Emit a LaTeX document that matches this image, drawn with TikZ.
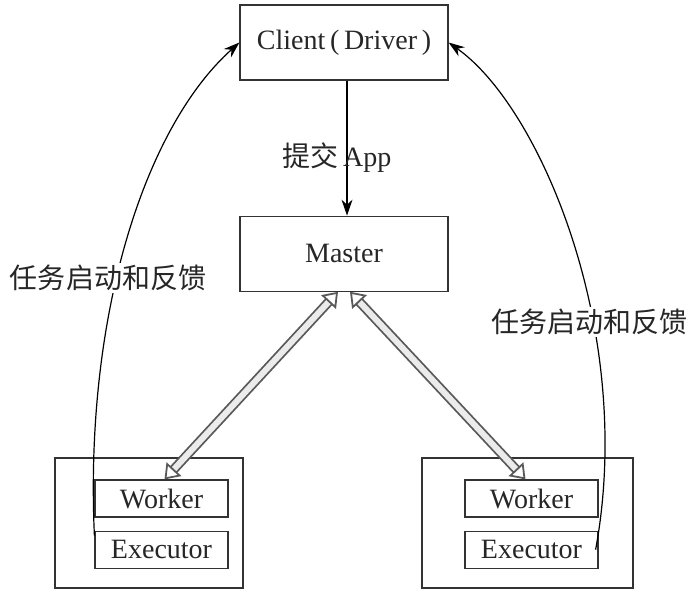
\documentclass[tikz,border=0pt]{standalone}
\usepackage{fontspec}
\setmainfont{Liberation Serif}
\newfontfamily\cjk{Noto Sans CJK SC}
\usetikzlibrary{arrows.meta,positioning,calc}

\begin{document}
\begin{tikzpicture}[x=0.5pt, y=-0.5pt, >={Stealth[length=8pt,width=5.5pt]}, semithick, font=\fontsize{14}{16}\selectfont, text=black!85]

    \tikzstyle{box} = [rectangle, minimum width=104pt, minimum height=37.5pt, text centered, draw=black!80]
    \tikzstyle{part} = [rectangle, minimum width=66.5pt, minimum height=18.5pt, inner sep=0pt, text centered, draw=black!80]
    \tikzstyle{host} = [rectangle, minimum height=65pt, draw=black!80]
    \tikzstyle{link} = [double=black!8, double distance=3pt, line width=0.9pt, draw=black!65, {Triangle[open,length=7pt,width=10pt]}-{Triangle[open,length=7pt,width=10pt]}]
    \tikzstyle{tag} = [fill=white, inner sep=1pt, font=\cjk\fontsize{14}{16}\selectfont]

    \useasboundingbox (0,0) rectangle (694,600);

    \node (client)   [box]                        at (344,42.5)   {Client\,(\,Driver\,)};

    \node (master)   [box, below=67.5pt of client]                 {Master};

    \node (hostA)    [host, minimum width=94pt]    at (149,523)    {};
    \node (hostB)    [host, minimum width=105.5pt] at (527.5,523)  {};

    \node (workerA)  [part]                        at (161.5,498.5) {Worker};
    \node (execA)    [part, below=6.5pt of workerA]                 {Executor};

    \node (workerB)  [part]                        at (531.5,498.5) {Worker};
    \node (execB)    [part, below=6.5pt of workerB]                 {Executor};

    % submit
    \draw[->] ([xshift=1.5pt]client.south) -- ([xshift=1.5pt]master.north);
    \node (submit) at (337,158) {{\cjk 提交}\,App};

    % master <-> workers
    \draw[link] ([xshift=-3pt]master.south) -- ([xshift=1.5pt]workerA.north);
    \draw[link] ([xshift=3pt]master.south)  -- ([xshift=-3pt]workerB.north);

    % feedback
    \draw[->] ([yshift=-2.5pt]execA.north west) .. controls +(-10,-220) and +(-95,85) .. (client.west);
    \draw[->] ([xshift=-1.5pt]execB.east) .. controls +(40,-217) and +(92,65) .. (client.east);

    \node (feedA) [tag] at (108,278) {任务启动和反馈};
    \node (feedB) [tag] at (589,322) {任务启动和反馈};
\end{tikzpicture}
\end{document}
